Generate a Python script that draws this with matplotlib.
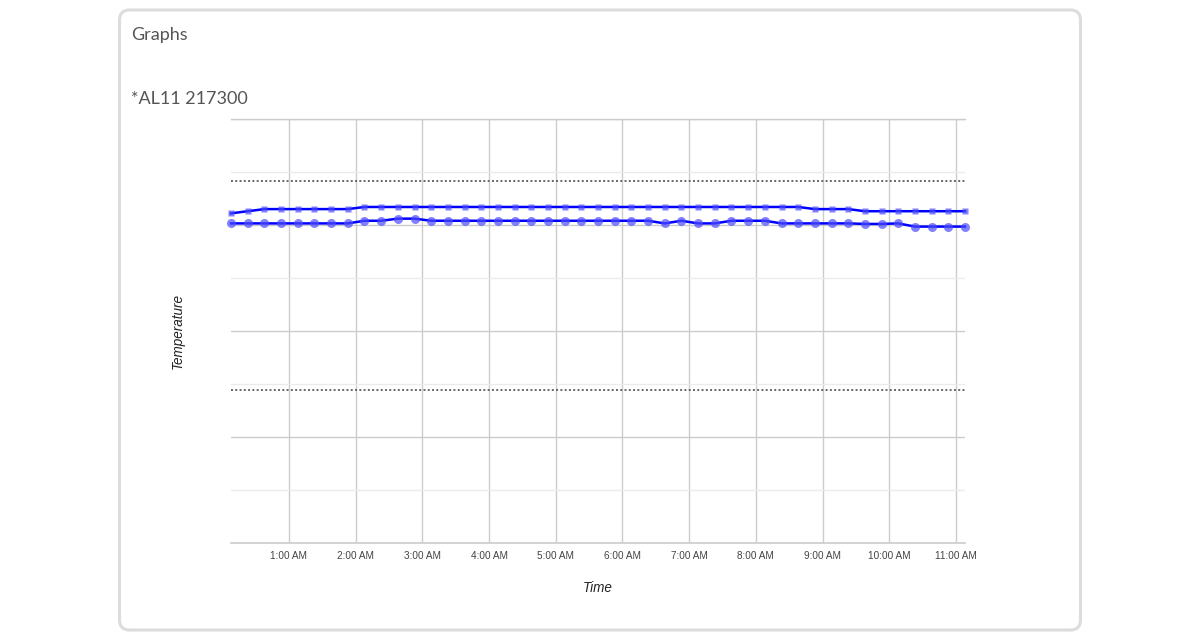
import matplotlib.pyplot as plt
import numpy as np
import pandas as pd
from matplotlib.patches import FancyBboxPatch

# readings every 15 minutes, starting 00:08
times = pd.date_range("2024-01-01 00:08", periods=45, freq="15min")
hours = times.hour + times.minute / 60.0

probe_a = [31.1, 31.3, 31.5, 31.5, 31.5, 31.5, 31.5, 31.5,
           31.7, 31.7, 31.7, 31.7, 31.7, 31.7, 31.7, 31.7, 31.7, 31.7,
           31.7, 31.7, 31.7, 31.7, 31.7, 31.7, 31.7, 31.7, 31.7, 31.7,
           31.7, 31.7, 31.7, 31.7, 31.7, 31.7, 31.7,
           31.5, 31.5, 31.5,
           31.3, 31.3, 31.3, 31.3, 31.3, 31.3, 31.3]
probe_b = [30.15, 30.15, 30.15, 30.15, 30.15, 30.15, 30.15, 30.15,
           30.4, 30.4, 30.6, 30.6,
           30.4, 30.4, 30.4, 30.4, 30.4, 30.4, 30.4, 30.4, 30.4, 30.4,
           30.4, 30.4, 30.4, 30.4,
           30.15, 30.4, 30.15, 30.15, 30.4, 30.4, 30.4,
           30.15, 30.15, 30.15, 30.15, 30.15,
           30.1, 30.1, 30.15,
           29.85, 29.85, 29.85, 29.85]

upper_limit = 34.15
lower_limit = 14.45

tick_hours = [1, 2, 3, 4, 5, 6, 7, 8, 9, 10, 11]
tick_labels = ["1:00 AM", "2:00 AM", "3:00 AM", "4:00 AM", "5:00 AM", "6:00 AM",
               "7:00 AM", "8:00 AM", "9:00 AM", "10:00 AM", "11:00 AM"]

fig = plt.figure(figsize=(12, 6.39), dpi=100)

# card background in pixel units
bg = fig.add_axes((0, 0, 1, 1))
bg.set_xlim(0, 1200)
bg.set_ylim(639, 0)
bg.axis("off")
bg.add_patch(FancyBboxPatch((119.5, 10), 961, 620,
                            boxstyle="round,pad=0,rounding_size=10",
                            fc="white", ec="#dcdcdc", lw=2.2))
bg.text(131, 35, "Graphs", family="Lato", fontsize=13, color="#555555",
        va="center", ha="left")
bg.text(131, 99, "*AL11 217300", family="Lato", fontsize=13, color="#555555",
        va="center", ha="left")

ax = fig.add_axes((231 / 1200, 96 / 639, 734 / 1200, 424 / 639))
ax.set_facecolor("none")

ax.plot(hours, probe_a, color="#0000ff", lw=1.8, marker="s", ms=4.5,
        mfc=(0.3, 0.3, 1, 0.7), mec="none", zorder=4, clip_on=False)
ax.plot(hours, probe_b, color="#0000ff", lw=1.8, marker="o", ms=6.5,
        mfc=(0.3, 0.3, 1, 0.7), mec="none", zorder=4, clip_on=False)

ax.axhline(upper_limit, color="#666666", lw=1.4, ls=(0, (1, 1.2)), zorder=3)
ax.axhline(lower_limit, color="#666666", lw=1.4, ls=(0, (1, 1.2)), zorder=3)
ax.axhline(0, color="#cccccc", lw=1.2, clip_on=False, zorder=1)
ax.axhline(40, color="#cccccc", lw=1, clip_on=False, zorder=1)

ax.set_xlim(hours[0], hours[-1])
ax.set_ylim(0, 40)
ax.set_xticks(tick_hours)
ax.set_xticklabels(tick_labels, family="Liberation Sans", fontsize=7.2,
                   color="#444444")
ax.set_yticks(np.arange(0, 41, 10))
ax.set_yticks(np.arange(5, 40, 10), minor=True)
ax.tick_params(axis="both", which="both", length=0)
ax.tick_params(axis="x", pad=5.5)
ax.set_yticklabels([])

ax.grid(True, axis="x", color="#cccccc", lw=1)
ax.grid(True, axis="y", which="major", color="#cccccc", lw=1)
ax.grid(True, axis="y", which="minor", color="#ebebeb", lw=1)
ax.set_axisbelow(True)
for s in ax.spines.values():
    s.set_visible(False)

ax.set_xlabel("Time", family="Liberation Sans", style="italic", fontsize=9.75,
              color="#222222", labelpad=15)
ax.set_ylabel("Temperature", family="Liberation Sans", style="italic",
              fontsize=9.75, color="#222222", labelpad=30)

plt.savefig("out.png", dpi=100)
